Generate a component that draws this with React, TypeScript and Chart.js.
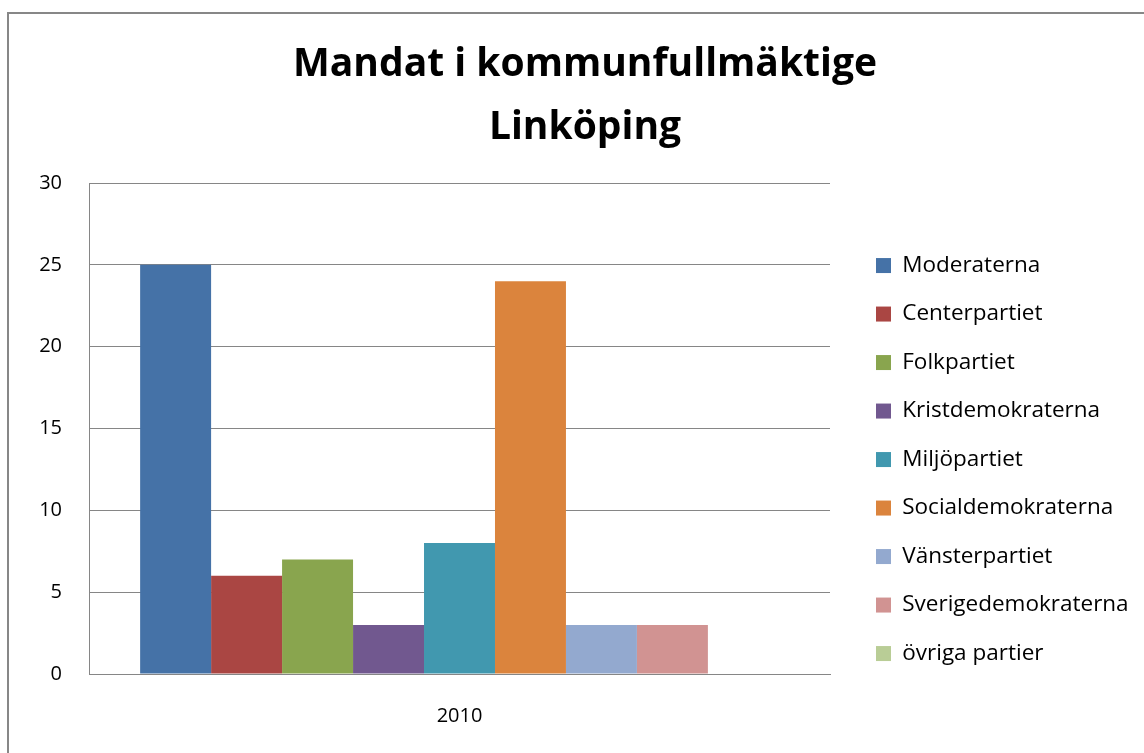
import React, { useEffect, useRef } from 'react';
import { Chart, registerables } from 'chart.js';

Chart.register(...registerables);

const categories = ['2010'];
const parties = [
  'Moderaterna',
  'Centerpartiet',
  'Folkpartiet',
  'Kristdemokraterna',
  'Miljöpartiet',
  'Socialdemokraterna',
  'Vänsterpartiet',
  'Sverigedemokraterna',
  'övriga partier',
];
const seats = [25, 6, 7, 3, 8, 24, 3, 3, 0];
const partyColors = [
  '#4572A7',
  '#AA4643',
  '#89A54E',
  '#71588F',
  '#4198AF',
  '#DB843D',
  '#93A9CF',
  '#D19392',
  '#B9CD96',
];
const titleLines = ['Mandat i kommunfullmäktige', 'Linköping'];
const yMin = 0;
const yMax = 30;
const yStep = 5;

const FONT = "'Open Sans', 'Liberation Sans', sans-serif";
const GRID = '#868686';
const LEGEND_W = 294;

const framePlugin = {
  id: 'frame',
  beforeDraw(chart: any) {
    const c = chart.ctx;
    c.save();
    c.strokeStyle = '#878787';
    c.lineWidth = 2;
    c.strokeRect(8, 13, 3000, 3000);
    c.restore();
  },
};

const legendWidthPlugin = {
  id: 'legendWidth',
  beforeLayout(chart: any) {
    const lg = chart.legend;
    if (lg && !lg.__patched) {
      const orig = lg.fit.bind(lg);
      lg.fit = function () {
        orig();
        this.width = LEGEND_W;
      };
      lg.__patched = true;
    }
  },
};

export default function App() {
  const ref = useRef<HTMLCanvasElement | null>(null);

  useEffect(() => {
    if (!ref.current) return;
    const datasets = parties.map((p, i) => ({
      label: p,
      data: [seats[i]],
      backgroundColor: partyColors[i],
      borderWidth: 0,
      categoryPercentage: 0.862,
      barPercentage: 1,
      yAxisID: 'y',
    }));
    const chart = new Chart(ref.current, {
      type: 'bar',
      data: { labels: categories, datasets },
      plugins: [framePlugin, legendWidthPlugin],
      options: {
        animation: false,
        responsive: false,
        devicePixelRatio: 1,
        layout: { padding: { left: 26, right: 0, top: 0, bottom: 0 } },
        plugins: {
          tooltip: { enabled: false },
          title: {
            display: true,
            text: titleLines,
            color: '#000',
            font: { family: FONT, size: 39, weight: 'bold', lineHeight: 63 / 39 },
            padding: { top: 33, bottom: 24 },
          },
          legend: {
            position: 'right',
            align: 'start',
            fullSize: true,
            title: {
              display: true,
              text: '',
              font: { size: 10, lineHeight: 1 },
              padding: { top: 218.3, bottom: 0 },
            },
            labels: {
              boxWidth: 15,
              boxHeight: 15,
              padding: 26,
              color: '#000',
              font: { family: FONT, size: 22.5 },
            },
          },
        },
        scales: {
          x: {
            grid: { display: false, drawTicks: false },
            border: { display: true, color: GRID, width: 1 },
            ticks: { color: '#000', font: { family: FONT, size: 20 }, padding: 30 },
            afterFit: (s: any) => {
              s.height = 79;
            },
          },
          y: {
            min: yMin,
            max: yMax,
            position: 'left',
            ticks: { stepSize: yStep, color: '#000', font: { family: FONT, size: 20 }, padding: 27 },
            grid: { color: GRID, drawTicks: false, lineWidth: 1 },
            border: { display: true, color: GRID, width: 1 },
            afterFit: (s: any) => {
              s.width = 63;
            },
          },
          y2: {
            type: 'linear',
            position: 'right',
            display: true,
            grid: { display: false, drawTicks: false },
            border: { display: false },
            ticks: { display: false },
            afterFit: (s: any) => {
              s.width = 20;
            },
          },
        },
      } as any,
    });
    return () => chart.destroy();
  }, []);

  return (
    <canvas
      ref={ref}
      width={1144}
      height={753}
      style={{ position: 'absolute', left: 0, top: 0, width: 1144, height: 753 }}
    />
  );
}
